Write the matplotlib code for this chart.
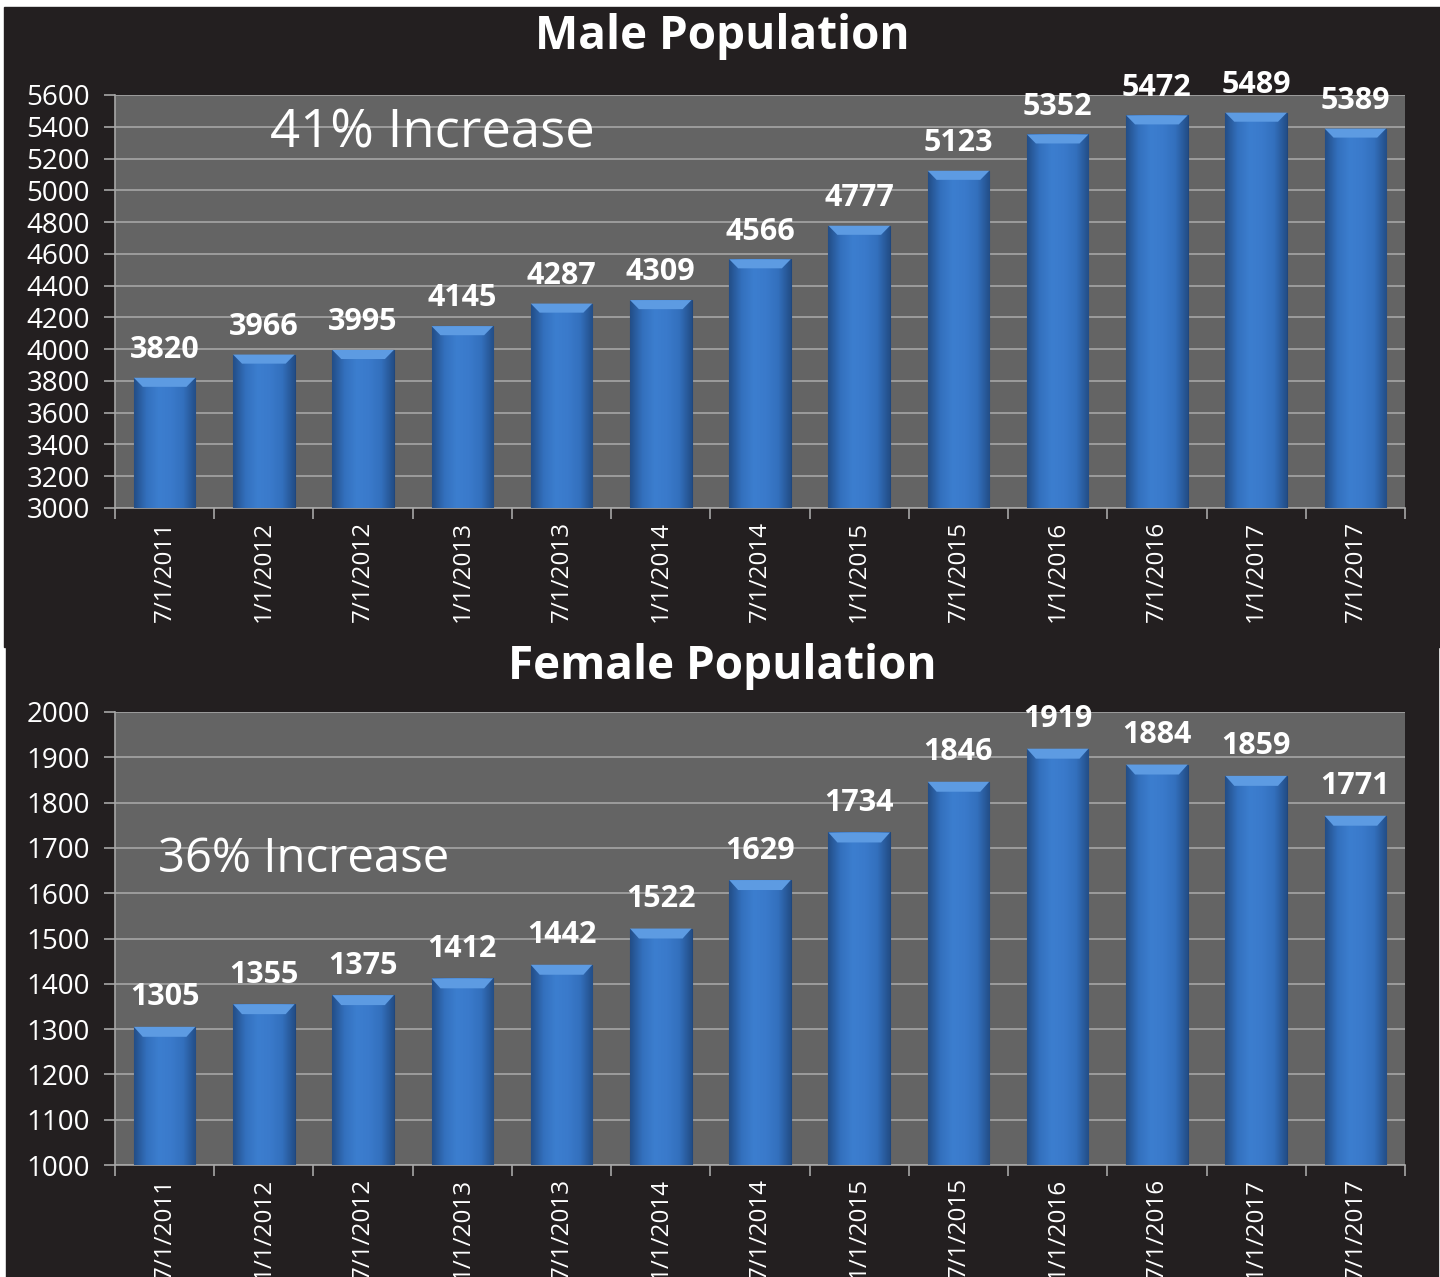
import numpy as np
import matplotlib
matplotlib.use('Agg')
import matplotlib.pyplot as plt
from matplotlib.patches import Rectangle, Polygon
from matplotlib.colors import LinearSegmentedColormap

# === data ===
dates = ['7/1/2011', '1/1/2012', '7/1/2012', '1/1/2013', '7/1/2013', '1/1/2014', '7/1/2014',
         '1/1/2015', '7/1/2015', '1/1/2016', '7/1/2016', '1/1/2017', '7/1/2017']
male = [3820, 3966, 3995, 4145, 4287, 4309, 4566, 4777, 5123, 5352, 5472, 5489, 5389]
female = [1305, 1355, 1375, 1412, 1442, 1522, 1629, 1734, 1846, 1919, 1884, 1859, 1771]

plt.rcParams['font.family'] = ['Open Sans', 'DejaVu Sans']

BG = '#231f20'
PLOT_BG = '#646464'
GRID = '#a6a6a6'

bar_cmap = LinearSegmentedColormap.from_list(
    'bar', ['#234e88', '#3370bd', '#3c7ecf', '#3a7acb', '#3370bd', '#234e88'])

fig = plt.figure(figsize=(14.4, 12.77), dpi=100, facecolor='white')

# dark panels behind each chart
fig.patches.append(Rectangle((4 / 1440, (1277 - 647) / 1277), 1436 / 1440, 640 / 1277,
                             transform=fig.transFigure, color=BG, zorder=-10))
fig.patches.append(Rectangle((6 / 1440, 0), 1432 / 1440, (1277 - 645) / 1277,
                             transform=fig.transFigure, color=BG, zorder=-10))


def draw_panel(rect, values, ymin, ymax, ystep, title, title_y, note, note_xy, note_size, label_pad):
    ax = fig.add_axes(rect)
    ax.set_facecolor(PLOT_BG)
    x = np.arange(len(values))
    w = 0.62
    bars = ax.bar(x, [v - ymin for v in values], bottom=ymin, width=w,
                  color='#3a78c8', edgecolor='#1f477e', linewidth=0.8, zorder=3)
    grad = np.linspace(0, 1, 100).reshape(1, -1)
    for b, v in zip(bars, values):
        im = ax.imshow(grad, cmap=bar_cmap, aspect='auto', zorder=3.5,
                       extent=(b.get_x(), b.get_x() + w, ymin, v))
        im.set_clip_path(b)
        # bevel on the top of the bar
        h = (ymax - ymin) * 0.022
        d = 0.09
        top = Polygon([(b.get_x(), v), (b.get_x() + w, v),
                       (b.get_x() + w - d, v - h), (b.get_x() + d, v - h)],
                      closed=True, color='#5d9be2', zorder=4, linewidth=0)
        ax.add_patch(top)
        ax.text(b.get_x() + w / 2, v + label_pad, f'{v}', ha='center', va='bottom',
                color='white', fontsize=22, fontweight='bold', zorder=5)

    ax.set_xlim(-0.5, len(values) - 0.5)
    ax.set_ylim(ymin, ymax)
    ax.set_yticks(np.arange(ymin, ymax + 1, ystep))
    ax.yaxis.grid(True, color=GRID, linewidth=1.2, zorder=0)
    ax.set_axisbelow(True)
    ax.set_xticks(x)
    ax.set_xticklabels(dates, rotation=90)
    ax.set_xticks(np.arange(-0.5, len(values)), minor=True)
    ax.tick_params(axis='x', which='major', length=0, pad=9, labelsize=17.5, colors='white')
    ax.tick_params(axis='x', which='minor', length=8, color=GRID, width=1.2)
    ax.tick_params(axis='y', length=8, color=GRID, width=1.2, labelsize=20, colors='white', pad=10)
    for s in ax.spines.values():
        s.set_color(GRID)
        s.set_linewidth(1.2)
    ax.spines['top'].set_visible(False)
    ax.spines['right'].set_visible(False)

    fig.text(722 / 1440, 1 - title_y / 1277, title, ha='center', va='center',
             color='white', fontsize=33, fontweight='bold')
    ax.text(note_xy[0], note_xy[1], note, transform=ax.transAxes, ha='left', va='center',
            color='white', fontsize=note_size)
    return ax


draw_panel([115 / 1440, (1277 - 508) / 1277, 1290 / 1440, 413 / 1277],
           male, 3000, 5600, 200, 'Male Population', 36,
           '41% Increase', (0.12, 0.905), 38, 80)
draw_panel([115 / 1440, (1277 - 1165) / 1277, 1290 / 1440, 453 / 1277],
           female, 1000, 2000, 100, 'Female Population', 666,
           '36% Increase', (0.033, 0.676), 34, 32)

fig.savefig('out.png', dpi=100, facecolor='white')
